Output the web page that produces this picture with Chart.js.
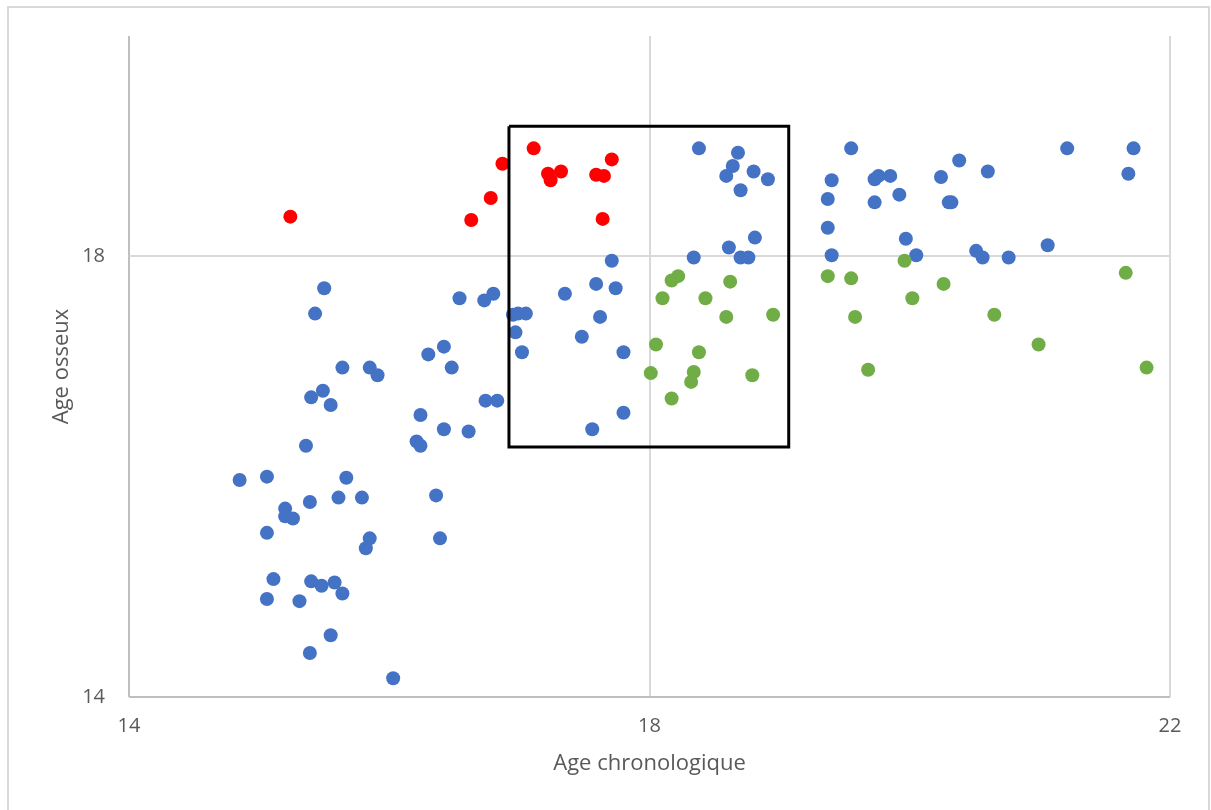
<!DOCTYPE html>
<html>
<head>
<meta charset="utf-8">
<script src="https://cdn.jsdelivr.net/npm/chart.js@4.4.1/dist/chart.umd.min.js"></script>
<style>
  html, body { margin: 0; padding: 0; background: #fff; }
  #wrap { position: relative; width: 1211px; height: 810px; }
  #frame {
    position: absolute; left: 7px; top: 6px; width: 1203px; height: 830px;
    border: 2px solid #d9d9d9; box-sizing: border-box; pointer-events: none;
  }
</style>
</head>
<body>
<div id="wrap">
  <canvas id="myChart-age"></canvas>
  <div id="frame"></div>
</div>
<script>
// axes
const xTitle = 'Age chronologique';
const yTitle = 'Age osseux';
const xTicks = [14, 18, 22];
const yTicks = [14, 18];

// blue points
const blueX = [14.85, 15.06, 15.20, 15.20, 15.26, 15.06, 15.36, 15.39, 15.61, 15.67,
  15.79, 15.85, 15.82, 15.11, 15.06, 15.40, 15.48, 15.58, 15.64, 15.31,
  15.55, 15.39, 16.03, 15.40, 15.49, 15.55, 15.64, 15.85, 15.91, 15.43,
  15.50, 16.21, 16.24, 16.24, 16.36, 16.39, 16.42, 16.61, 16.30, 16.42,
  16.48, 16.54, 16.73, 16.80, 16.74, 16.83,
  16.95, 16.99, 17.05, 16.97, 17.02, 17.35, 17.48, 17.59, 17.62, 17.71,
  17.74, 17.80, 17.80, 17.56, 18.38, 18.68, 18.64, 18.59, 18.80, 18.91,
  18.70, 18.81, 18.61, 18.34, 18.70, 18.76,
  19.55, 19.40, 19.37, 19.37, 19.40, 19.73, 19.76, 19.85, 19.92, 19.73,
  19.97, 20.05, 20.24, 20.38, 20.60, 20.30, 20.32, 20.51, 20.56, 20.76,
  21.06, 21.21, 21.72, 21.68];
const blueY = [15.97, 16.00, 15.71, 15.64, 15.62, 15.49, 16.28, 15.77, 15.81, 15.99,
  15.81, 15.44, 15.35, 15.07, 14.89, 15.05, 15.01, 15.04, 14.94, 14.87,
  14.56, 14.40, 14.17, 16.72, 16.78, 16.65, 16.99, 16.99, 16.92, 17.48,
  17.71, 16.32, 16.28, 16.56, 15.83, 15.44, 16.43, 16.41, 17.11, 17.18,
  16.99, 17.62, 17.60, 17.66, 16.69, 16.69,
  17.47, 17.48, 17.48, 17.31, 17.13, 17.66, 17.27, 17.75, 17.45, 17.96,
  17.71, 17.13, 16.58, 16.43, 18.98, 18.94, 18.82, 18.73, 18.77, 18.70,
  18.60, 18.17, 18.08, 17.99, 17.99, 17.99,
  18.98, 18.69, 18.52, 18.26, 18.01, 18.70, 18.73, 18.73, 18.56, 18.49,
  18.16, 18.01, 18.72, 18.87, 18.77, 18.49, 18.49, 18.05, 17.99, 17.99,
  18.10, 18.98, 18.98, 18.75];

// red points
const redX = [15.24, 16.63, 16.78, 16.87, 17.11, 17.22, 17.24, 17.32, 17.59, 17.65, 17.71, 17.64];
const redY = [18.36, 18.33, 18.53, 18.84, 18.98, 18.75, 18.69, 18.77, 18.74, 18.73, 18.88, 18.34];

// green points
const greenX = [18.22, 18.17, 18.10, 18.43, 18.62, 18.59, 18.95, 18.05, 18.38, 18.01,
  18.34, 18.32, 18.79, 18.17, 19.37, 19.55, 19.96, 20.26, 20.02, 19.58,
  20.65, 20.99, 19.68, 21.66, 21.82];
const greenY = [17.82, 17.78, 17.62, 17.62, 17.77, 17.45, 17.47, 17.20, 17.13, 16.94,
  16.95, 16.86, 16.92, 16.71, 17.82, 17.80, 17.96, 17.75, 17.62, 17.45,
  17.47, 17.20, 16.97, 17.85, 16.99];

// highlight rectangle corners
const boxX = [16.92, 19.07, 19.07, 16.92, 16.92];
const boxY = [19.18, 19.18, 16.27, 16.27, 19.18];

function toPoints(xs, ys) {
  return xs.map((x, i) => ({ x: x, y: ys[i] }));
}

const textColor = '#595959';

function pointSet(xs, ys, color) {
  return {
    type: 'scatter',
    data: toPoints(xs, ys),
    backgroundColor: color,
    borderWidth: 0,
    pointRadius: 7,
    pointHoverRadius: 7
  };
}

const ctx = document.getElementById('myChart-age').getContext('2d');
const ageChart = new Chart(ctx, {
  type: 'scatter',
  data: {
    datasets: [
      {
        type: 'line',
        data: toPoints(boxX, boxY),
        borderColor: '#000',
        borderWidth: 3,
        pointRadius: 0,
        fill: false,
        tension: 0
      },
      pointSet(redX, redY, '#ff0000'),
      pointSet(greenX, greenY, '#70ad47'),
      pointSet(blueX, blueY, '#4472c4')
    ]
  },
  options: {
    responsive: true,
    maintainAspectRatio: false,
    animation: false,
    layout: { padding: { top: 35, right: 41, left: 0, bottom: 0 } },
    plugins: {
      legend: { display: false },
      tooltip: { enabled: false }
    },
    scales: {
      x: {
        type: 'linear',
        min: 14,
        max: 22,
        afterBuildTicks: axis => { axis.ticks = xTicks.map(v => ({ value: v })); },
        afterFit: scale => { scale.height = 113; },
        border: { display: false },
        grid: {
          drawTicks: false,
          lineWidth: 2,
          color: c => (c.tick && c.tick.value === 14 ? '#bfbfbf' : '#d9d9d9')
        },
        ticks: {
          padding: 17,
          color: textColor,
          font: { family: 'Open Sans', size: 20 }
        },
        title: {
          display: true,
          text: xTitle,
          color: textColor,
          font: { family: 'Open Sans', size: 22 },
          padding: { top: 0, bottom: 33 }
        }
      },
      y: {
        type: 'linear',
        min: 14,
        max: 20,
        afterBuildTicks: axis => { axis.ticks = yTicks.map(v => ({ value: v })); },
        afterFit: scale => { scale.width = 129; },
        border: { display: false },
        grid: {
          drawTicks: false,
          lineWidth: 2,
          color: c => (c.tick && c.tick.value === 14 ? '#bfbfbf' : '#d9d9d9')
        },
        ticks: {
          padding: 24,
          color: textColor,
          font: { family: 'Open Sans', size: 20 }
        },
        title: {
          display: true,
          text: yTitle,
          color: textColor,
          font: { family: 'Open Sans', size: 22 },
          padding: { top: 49, bottom: 0 }
        }
      }
    }
  }
});
</script>
</body>
</html>
